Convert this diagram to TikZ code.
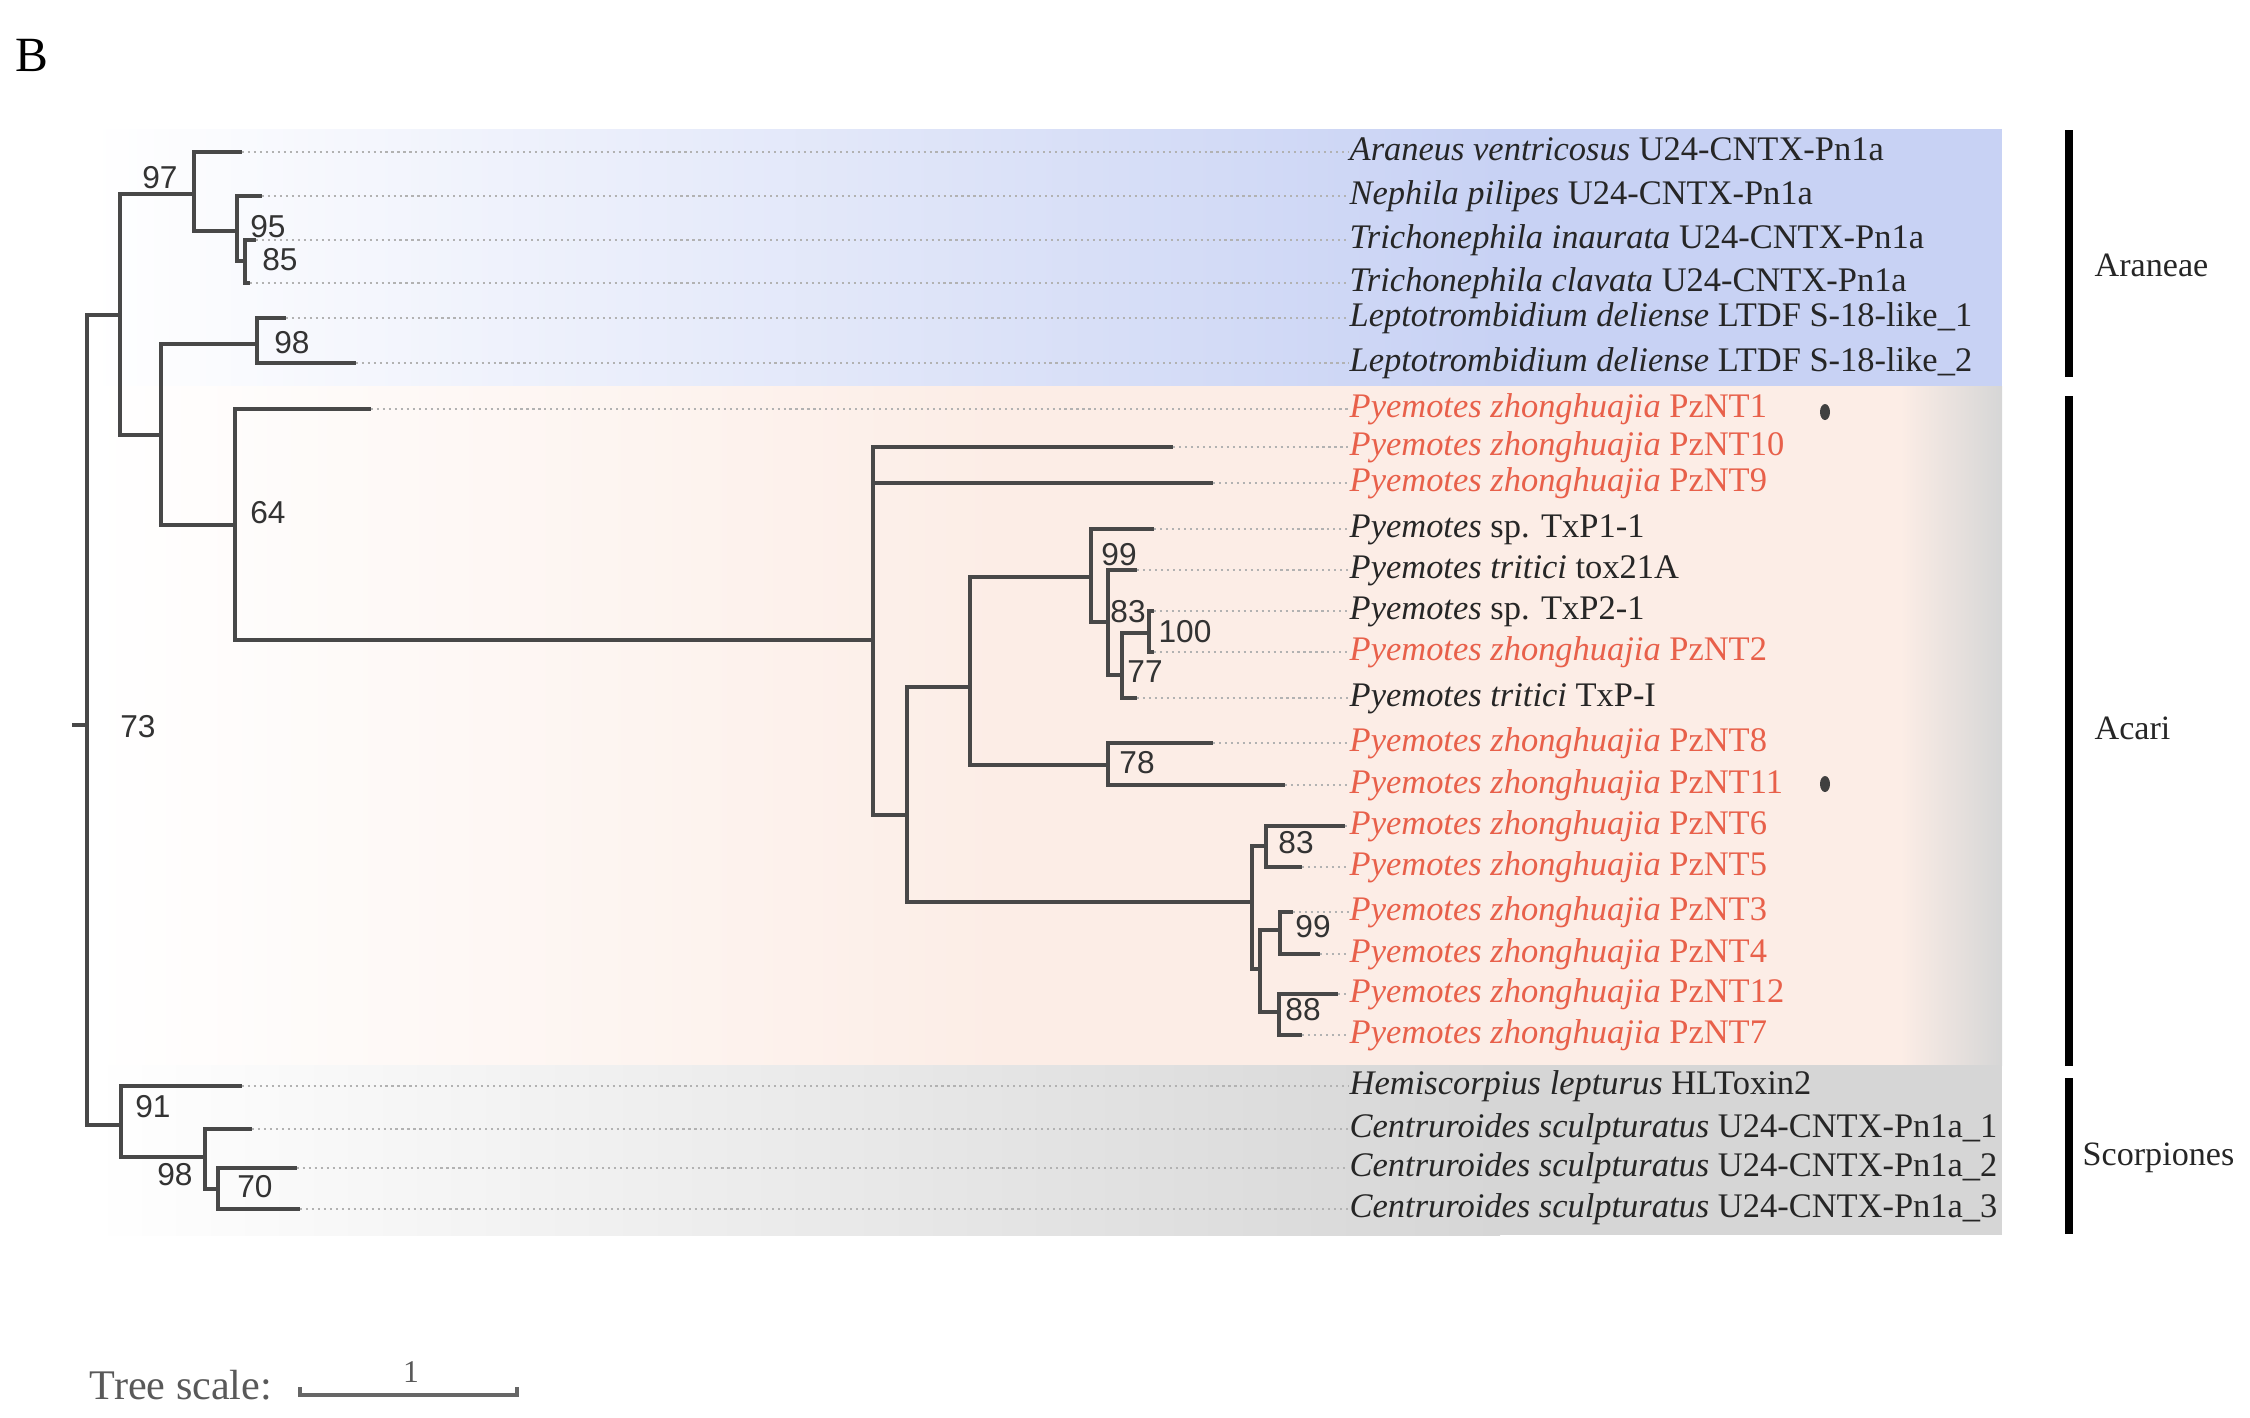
\documentclass[tikz,border=0pt]{standalone}
\usepackage{fontspec}
\setmainfont{Liberation Serif}
\newfontfamily\valfont{Liberation Sans}
\usetikzlibrary{positioning}

\definecolor{bandblue}{HTML}{C8D2F4}
\definecolor{bandpink}{HTML}{FCEDE6}
\definecolor{bandgrey}{HTML}{D6D6D6}
\definecolor{pzred}{HTML}{E8604A}
\definecolor{branch}{HTML}{484848}

\newcommand{\pzname}[1]{\textit{Pyemotes zhonghuajia} PzNT#1}
\newcommand{\cntx}{U24-CNTX-Pn1a}

\begin{document}
\begin{tikzpicture}[x=0.01cm, y=-0.01cm,
    br/.style={draw=branch, line width=1.1pt},
    dots/.style={draw=gray!60, line width=0.5pt, dash pattern=on 0.6pt off 1.1pt},
    taxon/.style={anchor=west, inner sep=0pt, text height=7pt, text depth=2pt, text=black!85, font=\fontsize{9.8}{11}\selectfont},
    pz/.style={taxon, text=pzred},
    boot/.style={inner sep=0pt, text=black!80, font=\valfont\fontsize{9}{10}\selectfont},
    clade/.style={inner sep=0pt, text=black!85, font=\fontsize{9.7}{11}\selectfont},
    cladebar/.style={draw=black, line width=2pt}]

\useasboundingbox (0,0) rectangle (2250,1417);

% coloured bands behind the clades
\shade[left color=white, right color=bandblue] (90,129) rectangle (1500,386);
\fill[bandblue] (1500,129) rectangle (2002,386);
\shade[left color=white, right color=bandpink] (90,386) rectangle (1000,1065);
\fill[bandpink] (1000,386) rectangle (1900,1065);
\shade[left color=bandpink, right color=bandgrey] (1900,386) rectangle (2002,1065);
\shade[left color=white, right color=bandgrey] (90,1065) rectangle (1500,1235);
\fill[bandgrey] (1500,1065) rectangle (2002,1235);

\node[font=\fontsize{14}{16}\selectfont, inner sep=0pt] (panel) at (32,55) {B};

% inner nodes
\coordinate (stem) at (72,725);
\coordinate (root) at (87,725);
\coordinate (nA) at (120,315);
\coordinate (n97) at (194,194);
\coordinate (n95) at (237,231);
\coordinate (n85) at (245,261);
\coordinate (nB) at (161,435);
\coordinate (n98) at (257,344);
\coordinate (n64) at (235,525);
\coordinate (nC) at (873,640);
\coordinate (nD) at (907,815);
\coordinate (nE) at (970,687);
\coordinate (n99) at (1091,577);
\coordinate (n83) at (1108,622);
\coordinate (n77) at (1122,675);
\coordinate (n100) at (1149,633);
\coordinate (n78) at (1108,765);
\coordinate (nF) at (1252,902);
\coordinate (n83b) at (1266,846);
\coordinate (nG) at (1260,969);
\coordinate (n99b) at (1280,930);
\coordinate (n88) at (1279,1012);
\coordinate (n91) at (121,1125);
\coordinate (n98b) at (205,1157);
\coordinate (n70) at (218,1189);

% leaves: tip, label, dotted guide
\foreach \i/\y/\tip/\sty/\txt in {
    1/152/242/taxon/{\textit{Araneus ventricosus} \cntx},
    2/196/262/taxon/{\textit{Nephila pilipes} \cntx},
    3/240/256/taxon/{\textit{Trichonephila inaurata} \cntx},
    4/283/250/taxon/{\textit{Trichonephila clavata} \cntx},
    5/318/286/taxon/{\textit{Leptotrombidium deliense} LTDF S-18-like\_1},
    6/363/356/taxon/{\textit{Leptotrombidium deliense} LTDF S-18-like\_2},
    7/409/371/pz/{\pzname{1}},
    8/447/1173/pz/{\pzname{10}},
    9/483/1213/pz/{\pzname{9}},
    10/529/1154/taxon/{\textit{Pyemotes} sp. TxP1-1},
    11/570/1137/taxon/{\textit{Pyemotes tritici} tox21A},
    12/611/1154/taxon/{\textit{Pyemotes} sp. TxP2-1},
    13/652/1154/pz/{\pzname{2}},
    14/698/1137/taxon/{\textit{Pyemotes tritici} TxP-I},
    15/743/1213/pz/{\pzname{8}},
    16/785/1285/pz/{\pzname{11}},
    17/826/1345/pz/{\pzname{6}},
    18/867/1302/pz/{\pzname{5}},
    19/912/1293/pz/{\pzname{3}},
    20/954/1320/pz/{\pzname{4}},
    21/994/1338/pz/{\pzname{12}},
    22/1035/1302/pz/{\pzname{7}},
    23/1086/242/taxon/{\textit{Hemiscorpius lepturus} HLToxin2},
    24/1129/252/taxon/{\textit{Centruroides sculpturatus} \cntx\_1},
    25/1168/297/taxon/{\textit{Centruroides sculpturatus} \cntx\_2},
    26/1209/300/taxon/{\textit{Centruroides sculpturatus} \cntx\_3}}
{
    \coordinate (l\i) at (\tip,\y);
    \node[\sty] (t\i) at (1349,\y) {\txt};
    \draw[dots] (l\i) -- (t\i.west);
}

% branches
\draw[br] (stem) -- (root);
\foreach \p/\c in {root/nA, root/n91, nA/n97, nA/nB, n97/l1, n97/n95,
    n95/l2, n95/n85, n85/l3, n85/l4, nB/n98, nB/n64, n98/l5, n98/l6,
    n64/l7, n64/nC, nC/l8, nC/l9, nC/nD, nD/nE, nD/nF, nE/n99, nE/n78,
    n99/l10, n99/n83, n83/l11, n83/n77, n77/n100, n77/l14, n100/l12,
    n100/l13, n78/l15, n78/l16, nF/n83b, nF/nG, n83b/l17, n83b/l18,
    nG/n99b, nG/n88, n99b/l19, n99b/l20, n88/l21, n88/l22,
    n91/l23, n91/n98b, n98b/l24, n98b/n70, n70/l25, n70/l26}
    \draw[br] (\p) |- (\c);

% support values
\node[boot] (b73) at (138,727) {73};
\node[boot] (b97) at (160,178) {97};
\node[boot] (b95) at (268,227) {95};
\node[boot] (b85) at (280,260) {85};
\node[boot] (b98) at (292,343) {98};
\node[boot] (b64) at (268,513) {64};
\node[boot] (b99) at (1119,555) {99};
\node[boot] (b83) at (1128,612) {83};
\node[boot] (b100) at (1185,632) {100};
\node[boot] (b77) at (1145,672) {77};
\node[boot] (b78) at (1137,763) {78};
\node[boot] (b83b) at (1296,843) {83};
\node[boot] (b99b) at (1313,927) {99};
\node[boot] (b88) at (1303,1010) {88};
\node[boot] (b91) at (153,1107) {91};
\node[boot] (b98b) at (175,1175) {98};
\node[boot] (b70) at (255,1187) {70};

% marked sequences
\coordinate (mark1) at (1825,412);
\coordinate (mark2) at (1825,784);
\fill[black!75] (mark1) ellipse [x radius=5, y radius=8];
\fill[black!75] (mark2) ellipse [x radius=5, y radius=8];

% clade bars
\coordinate (araTop) at (2069,130);
\coordinate (araBot) at (2069,377);
\coordinate (acaTop) at (2069,396);
\coordinate (acaBot) at (2069,1066);
\coordinate (scoTop) at (2069,1078);
\coordinate (scoBot) at (2069,1234);
\draw[cladebar] (araTop) -- (araBot);
\draw[cladebar] (acaTop) -- (acaBot);
\draw[cladebar] (scoTop) -- (scoBot);
\node[clade, anchor=west] (ara) at (2094,265) {Araneae};
\node[clade, anchor=west] (aca) at (2094,728) {Acari};
\node[clade, anchor=west] (sco) at (2082,1158) {Scorpiones};

% tree scale
\node[text=black!65, font=\fontsize{12}{14}\selectfont, inner sep=0pt, anchor=west] (scale) at (89,1385) {Tree scale:};
\coordinate (sc0) at (300,1395);
\coordinate (sc1) at (517,1395);
\draw[draw=black!60, line width=0.9pt] (sc0) ++(0,-8) -- (sc0) -- (sc1) -- ++(0,-8);
\node[text=black!65, font=\fontsize{9}{10}\selectfont, inner sep=0pt] (unit) at (411,1372) {1};

\end{tikzpicture}
\end{document}
